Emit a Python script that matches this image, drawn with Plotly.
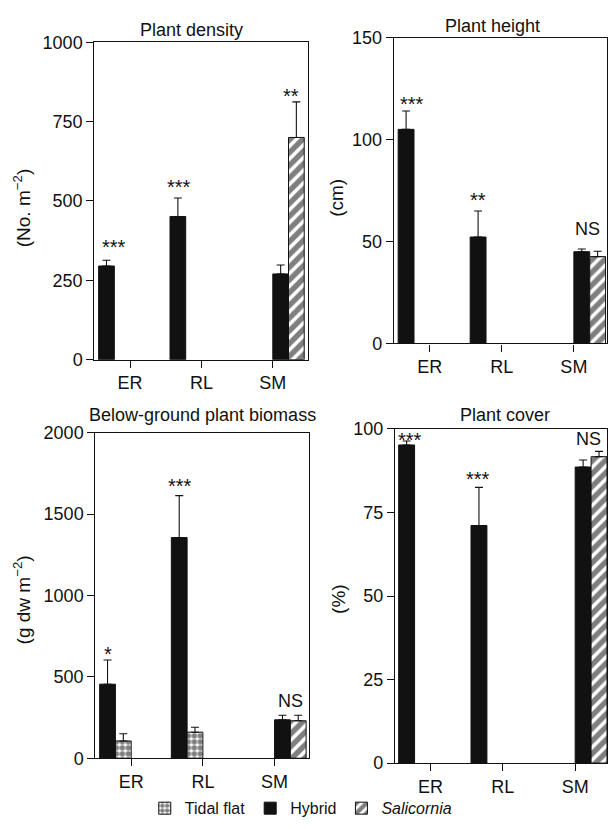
import plotly.graph_objects as go

# ---------------- data ----------------
sites = ["ER", "RL", "SM"]
# which treatment the hybrid is compared against at each site
partner = ["Tidal flat", "Tidal flat", "Salicornia"]

density_hybrid = [295, 451, 270]
density_hybrid_err = [18, 58, 28]
density_tidal = [None, None, None]
density_tidal_err = [0, 0, 0]
density_sal = [None, None, 700]
density_sal_err = [0, 0, 112]
density_sig = ["***", "***", "**"]

height_hybrid = [105.0, 52.2, 45.0]
height_hybrid_err = [9.0, 12.8, 1.3]
height_tidal = [None, None, None]
height_tidal_err = [0, 0, 0]
height_sal = [None, None, 42.6]
height_sal_err = [0, 0, 2.6]
height_sig = ["***", "**", "NS"]

biomass_hybrid = [455, 1356, 236]
biomass_hybrid_err = [149, 258, 28]
biomass_tidal = [106, 160, None]
biomass_tidal_err = [44, 30, 0]
biomass_sal = [None, None, 230]
biomass_sal_err = [0, 0, 34]
biomass_sig = ["*", "***", "NS"]

cover_hybrid = [95.2, 71.1, 88.6]
cover_hybrid_err = [1.2, 11.4, 2.1]
cover_tidal = [None, None, None]
cover_tidal_err = [0, 0, 0]
cover_sal = [None, None, 91.7]
cover_sal_err = [0, 0, 1.6]
cover_sig = ["***", "***", "NS"]

titles = ["Plant density", "Plant height", "Below-ground plant biomass", "Plant cover"]
ytitles = ["(No. m<sup>\u22122</sup>)", "(cm)", "(g dw m<sup>\u22122</sup>)", "(%)"]
yticks = [[0, 250, 500, 750, 1000], [0, 50, 100, 150],
          [0, 500, 1000, 1500, 2000], [0, 25, 50, 75, 100]]

# ---------------- layout constants ----------------
W, H = 608, 829
FONT = "Liberation Sans, Arial, Helvetica, sans-serif"
INK = "#111111"

# panel pixel boxes: (left, right, top, bottom)
boxes = [(94.5, 309, 33, 358.3), (394.5, 608, 28.3, 341.7),
         (95.5, 309.5, 433.3, 766.7), (395.7, 608, 429.3, 771.7)]
xranges = [[-0.5, 2.5], [-0.5, 2.46], [-0.5, 2.48], [-0.49, 2.44]]

panels = [
    (density_hybrid, density_hybrid_err, density_tidal, density_tidal_err, density_sal, density_sal_err, density_sig),
    (height_hybrid, height_hybrid_err, height_tidal, height_tidal_err, height_sal, height_sal_err, height_sig),
    (biomass_hybrid, biomass_hybrid_err, biomass_tidal, biomass_tidal_err, biomass_sal, biomass_sal_err, biomass_sig),
    (cover_hybrid, cover_hybrid_err, cover_tidal, cover_tidal_err, cover_sal, cover_sal_err, cover_sig),
]

# significance label positions (x offset from category, y in data units)
sig_pos = [
    [(-0.23, 370), (-0.32, 559), (0.26, 846)],
    [(-0.25, 119.7), (-0.33, 72.6), (0.19, 56.3)],
    [(-0.32, 670), (-0.32, 1704), (0.22, 350)],
    [(-0.28, 98.3), (-0.34, 86.4), (0.18, 96.9)],
]

fig = go.Figure()


def err(arr):
    return dict(type="data", array=arr, arrayminus=[0] * len(arr), symmetric=False,
                color=INK, thickness=1.1, width=4, visible=True)


for p, (hyb, hyb_e, tid, tid_e, sal, sal_e, sig) in enumerate(panels):
    xa = "x" if p == 0 else f"x{p + 1}"
    ya = "y" if p == 0 else f"y{p + 1}"
    first = p == 0
    hyb_a = [v if partner[i] == "Tidal flat" else None for i, v in enumerate(hyb)]
    hyb_b = [v if partner[i] == "Salicornia" else None for i, v in enumerate(hyb)]
    hyb_ae = [e if partner[i] == "Tidal flat" else 0 for i, e in enumerate(hyb_e)]
    hyb_be = [e if partner[i] == "Salicornia" else 0 for i, e in enumerate(hyb_e)]

    # slot 1: hybrid (vs tidal flat)
    fig.add_trace(go.Bar(x=sites, y=hyb_a, name="Hybrid", legendgroup="hyb",
                         legendrank=2, showlegend=first, xaxis=xa, yaxis=ya,
                         marker=dict(color=INK, line=dict(color=INK, width=1)),
                         error_y=err(hyb_ae)))
    # slot 2: tidal flat
    fig.add_trace(go.Bar(x=sites, y=tid, name="Tidal flat", legendgroup="tid",
                         legendrank=1, showlegend=first, xaxis=xa, yaxis=ya,
                         marker=dict(color="white", line=dict(color=INK, width=1),
                                     pattern=dict(shape=".", fgcolor="#000000", bgcolor="white",
                                                  size=6, solidity=0.65)),
                         error_y=err(tid_e)))
    # slot 3: hybrid (vs Salicornia)
    fig.add_trace(go.Bar(x=sites, y=hyb_b, name="Hybrid", legendgroup="hyb",
                         showlegend=False, xaxis=xa, yaxis=ya,
                         marker=dict(color=INK, line=dict(color=INK, width=1)),
                         error_y=err(hyb_be)))
    # slot 4: Salicornia
    fig.add_trace(go.Bar(x=sites, y=sal, name="<i>Salicornia</i>", legendgroup="sal",
                         legendrank=3, showlegend=first, xaxis=xa, yaxis=ya,
                         marker=dict(color="white", line=dict(color=INK, width=1),
                                     pattern=dict(shape="/", fgcolor="#000000", bgcolor="white",
                                                  size=9, solidity=0.6)),
                         error_y=err(sal_e)))

    L, R, T, B = boxes[p]
    axis_common = dict(showline=True, linecolor=INK, linewidth=1.2, mirror=True,
                       ticks="outside", ticklen=7, tickwidth=1.2, tickcolor=INK,
                       showgrid=False, zeroline=False,
                       tickfont=dict(family=FONT, size=18, color=INK))
    fig.layout[f"xaxis{'' if p == 0 else p + 1}"] = dict(
        domain=[L / W, R / W], anchor=ya, type="category",
        categoryorder="array", categoryarray=sites, range=xranges[p], **axis_common)
    fig.layout[f"yaxis{'' if p == 0 else p + 1}"] = dict(
        domain=[1 - B / H, 1 - T / H], anchor=xa,
        range=[0, yticks[p][-1]], tickvals=yticks[p], **axis_common)

    # significance labels
    for i, s in enumerate(sig):
        dx, yy = sig_pos[p][i]
        star = "*" in s
        fig.add_annotation(x=i + dx, y=yy, xref=xa, yref=ya, text=s, showarrow=False,
                           xanchor="center", yanchor="middle",
                           yshift=-5 if star else 0,
                           font=dict(family=FONT, size=20 if star else 18, color=INK))

# panel titles
title_pos = [(192, 20.7), (493, 16), (202.5, 415), (506, 415)]
for t, (px, py) in zip(titles, title_pos):
    fig.add_annotation(x=px / W, y=1 - py / H, xref="paper", yref="paper", text=t,
                       showarrow=False, xanchor="center", yanchor="middle",
                       font=dict(family=FONT, size=18, color=INK))

# y-axis titles
ytitle_pos = [(21.7, 202.5), (337, 192), (22, 604), (339, 603)]
for t, (px, py) in zip(ytitles, ytitle_pos):
    fig.add_annotation(x=px / W, y=1 - py / H, xref="paper", yref="paper", text=t,
                       showarrow=False, xanchor="center", yanchor="middle", textangle=-90,
                       font=dict(family=FONT, size=19, color=INK))

fig.update_layout(
    width=W, height=H, margin=dict(l=0, r=0, t=0, b=0),
    paper_bgcolor="white", plot_bgcolor="white",
    barmode="group", bargap=0.12, bargroupgap=0,
    font=dict(family=FONT, color=INK),
    legend=dict(orientation="h", x=145 / W, y=1 - 818 / H, xanchor="left", yanchor="middle",
                font=dict(family=FONT, size=16, color=INK), traceorder="normal",
                bgcolor="rgba(0,0,0,0)", itemclick=False, itemdoubleclick=False),
)

fig.write_html("out.html")
